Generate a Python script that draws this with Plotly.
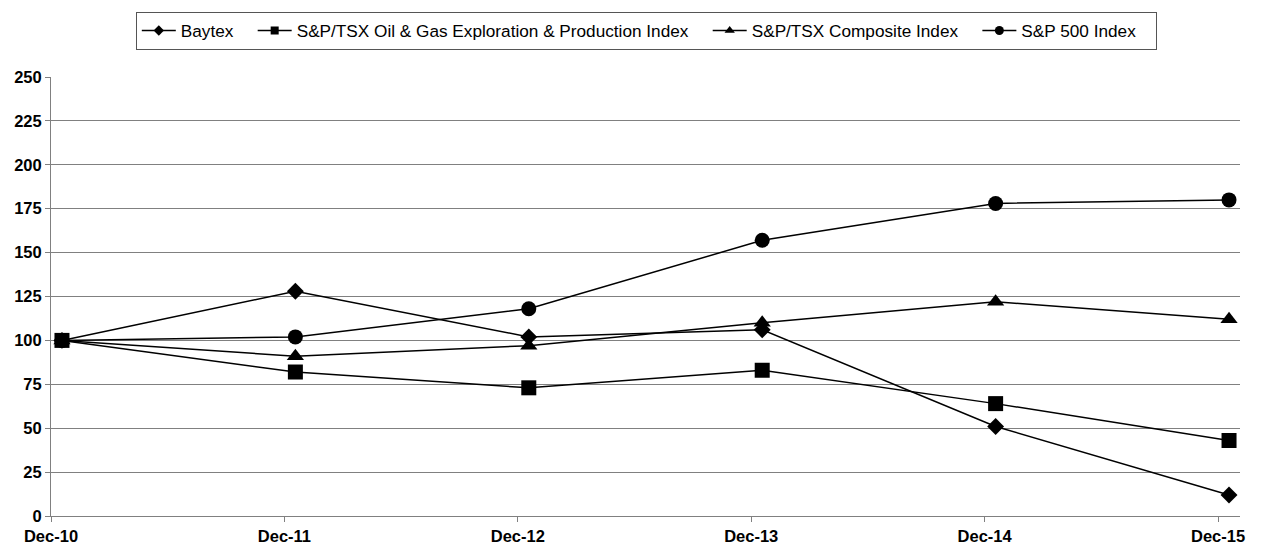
import plotly.graph_objects as go

categories = ["Dec-10", "Dec-11", "Dec-12", "Dec-13", "Dec-14", "Dec-15"]
baytex = [100, 128, 102, 106, 51, 12]
tsx_oil_gas = [100, 82, 73, 83, 64, 43]
tsx_composite = [100, 91, 97, 110, 122, 112]
sp500 = [100, 102, 118, 157, 178, 180]
y_ticks = [0, 25, 50, 75, 100, 125, 150, 175, 200, 225, 250]

series = [
    ("Baytex", baytex, "diamond", 13, 8),
    ("S&P/TSX Oil & Gas Exploration & Production Index", tsx_oil_gas, "square", 15, 8),
    ("S&P/TSX Composite Index", tsx_composite, "triangle-up", 15, 9),
    ("S&P 500 Index", sp500, "circle", 15, 9),
]

x_idx = list(range(len(categories)))
tick_offset = 0.047
pad = "\u00a0\u00a0\u00a0"

fig = go.Figure()
for name, vals, sym, size, lsize in series:
    fig.add_trace(go.Scatter(
        x=x_idx, y=vals, name=name, mode="lines+markers",
        line=dict(color="black", width=1.5),
        marker=dict(symbol=sym, size=size, color="black"),
        showlegend=False,
    ))
for name, vals, sym, size, lsize in series:
    fig.add_trace(go.Scatter(
        x=[None], y=[None], name=name + pad, mode="lines+markers",
        line=dict(color="black", width=1.5),
        marker=dict(symbol=sym, size=lsize, color="black"),
        showlegend=True,
    ))

fig.update_layout(
    width=1269, height=544,
    margin=dict(l=43, r=37, t=69, b=36),
    paper_bgcolor="white", plot_bgcolor="white",
    font=dict(family="Liberation Sans, Arial", size=17, color="black"),
    showlegend=True,
    legend=dict(
        orientation="h", xref="container", x=0.503, xanchor="center",
        yref="container", y=0.993, yanchor="top",
        bordercolor="#555555", borderwidth=1, bgcolor="white",
        font=dict(size=17.2), itemsizing="trace", itemwidth=34,
        tracegroupgap=0,
    ),
    xaxis=dict(
        range=[-tick_offset, len(categories) - 1 + tick_offset],
        tickmode="array",
        tickvals=[i - tick_offset for i in x_idx],
        ticktext=[f"<b>{c}</b>" for c in categories],
        showgrid=False, zeroline=False, automargin=False,
        showline=True, linecolor="#808080", linewidth=1,
        ticks="outside", ticklen=5, tickcolor="#808080",
        tickfont=dict(size=16.5),
    ),
    yaxis=dict(
        range=[0, 250], tickmode="array", tickvals=y_ticks,
        ticktext=[f"<b>{v}</b>" for v in y_ticks],
        showgrid=True, gridcolor="#808080", gridwidth=1, automargin=False,
        zeroline=False, showline=True, linecolor="#808080", linewidth=1,
        ticks="outside", ticklen=5, tickcolor="#808080",
        tickfont=dict(size=16.5),
    ),
)

fig.write_html("out.html")
